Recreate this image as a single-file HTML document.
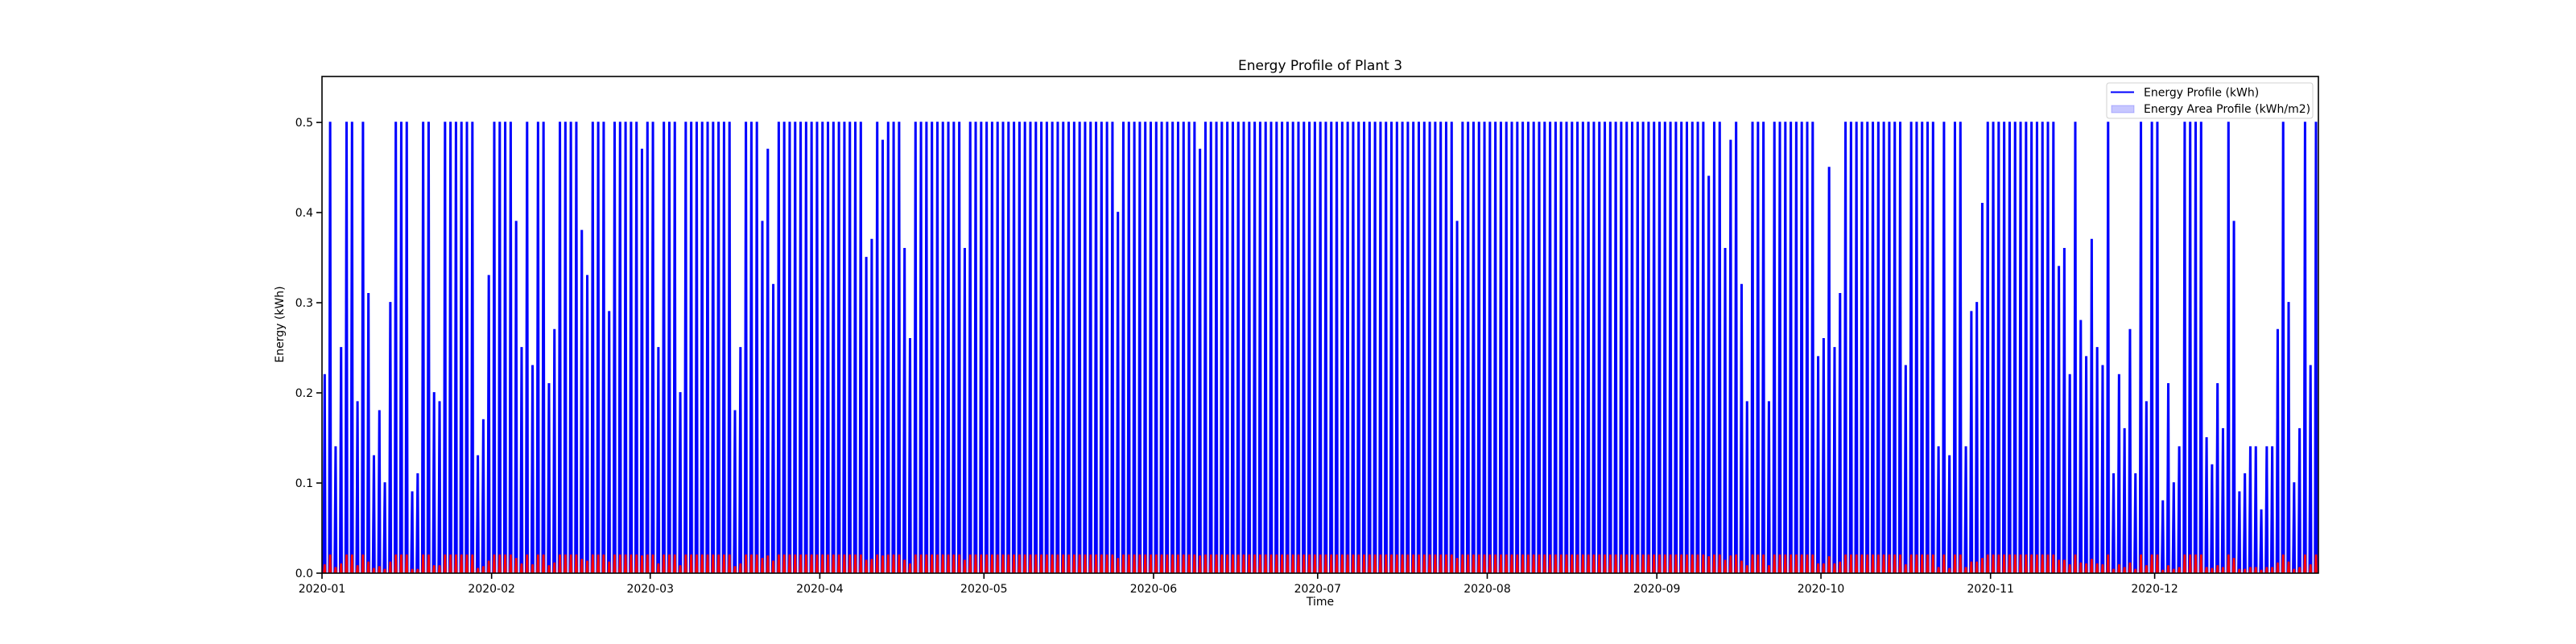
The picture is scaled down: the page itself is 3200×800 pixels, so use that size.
<!DOCTYPE html>
<html><head><meta charset="utf-8"><style>
html,body{margin:0;padding:0;background:#fff;}
svg{display:block;font-family:"DejaVu Sans","Liberation Sans",sans-serif;}
</style></head><body>
<svg id="chart" width="3200" height="800" viewBox="0 0 3200 800" xmlns="http://www.w3.org/2000/svg">
<rect width="3200" height="800" fill="#fff"/>
<text x="1640" y="87" font-size="17" text-anchor="middle" fill="#000">Energy Profile of Plant 3</text>
<g id="marks"></g>
<g id="axes"></g>
<rect x="400" y="95" width="2480" height="617" fill="none" stroke="#000" stroke-width="1.6"/>
<text x="1640" y="752" font-size="14" text-anchor="middle">Time</text>
<text x="0" y="0" font-size="14" text-anchor="middle" transform="translate(352,403) rotate(-90)">Energy (kWh)</text>
<g>
<rect x="2617" y="103" width="256" height="44" rx="3" fill="#fff" fill-opacity="0.85" stroke="#d0d0d0" stroke-width="1"/>
<line x1="2622" y1="114.5" x2="2651" y2="114.5" stroke="#0000ff" stroke-width="2"/>
<text x="2663" y="119.5" font-size="14">Energy Profile (kWh)</text>
<rect x="2623" y="131" width="28" height="9" fill="#0000ff" fill-opacity="0.22" stroke="#0000ff" stroke-opacity="0.22"/>
<text x="2663" y="140" font-size="14">Energy Area Profile (kWh/m2)</text>
</g>
</svg>
<script>
const energyPeaks = [
0.22,0.5,0.14,0.25,0.5,0.5,0.19,0.5,0.31,0.13,
0.18,0.10,0.30,0.5,0.5,0.5,0.09,0.11,0.5,0.5,
0.20,0.19,0.5,0.5,0.5,0.5,0.5,0.5,0.13,0.17,
0.33,0.5,0.5,0.5,0.5,0.39,0.25,0.5,0.23,0.5,
0.5,0.21,0.27,0.5,0.5,0.5,0.5,0.38,0.33,0.5,
0.5,0.5,0.29,0.5,0.5,0.5,0.5,0.5,0.47,0.5,
0.5,0.25,0.5,0.5,0.5,0.20,0.5,0.5,0.5,0.5,
0.5,0.5,0.5,0.5,0.5,0.18,0.25,0.5,0.5,0.5,
0.39,0.47,0.32,0.5,0.5,0.5,0.5,0.5,0.5,0.5,
0.5,0.5,0.5,0.5,0.5,0.5,0.5,0.5,0.5,0.35,
0.37,0.5,0.48,0.5,0.5,0.5,0.36,0.26,0.5,0.5,
0.5,0.5,0.5,0.5,0.5,0.5,0.5,0.36,0.5,0.5,
0.5,0.5,0.5,0.5,0.5,0.5,0.5,0.5,0.5,0.5,
0.5,0.5,0.5,0.5,0.5,0.5,0.5,0.5,0.5,0.5,
0.5,0.5,0.5,0.5,0.5,0.40,0.5,0.5,0.5,0.5,
0.5,0.5,0.5,0.5,0.5,0.5,0.5,0.5,0.5,0.5,
0.47,0.5,0.5,0.5,0.5,0.5,0.5,0.5,0.5,0.5,
0.5,0.5,0.5,0.5,0.5,0.5,0.5,0.5,0.5,0.5,
0.5,0.5,0.5,0.5,0.5,0.5,0.5,0.5,0.5,0.5,
0.5,0.5,0.5,0.5,0.5,0.5,0.5,0.5,0.5,0.5,
0.5,0.5,0.5,0.5,0.5,0.5,0.5,0.39,0.5,0.5,
0.5,0.5,0.5,0.5,0.5,0.5,0.5,0.5,0.5,0.5,
0.5,0.5,0.5,0.5,0.5,0.5,0.5,0.5,0.5,0.5,
0.5,0.5,0.5,0.5,0.5,0.5,0.5,0.5,0.5,0.5,
0.5,0.5,0.5,0.5,0.5,0.5,0.5,0.5,0.5,0.5,
0.5,0.5,0.5,0.44,0.5,0.5,0.36,0.48,0.5,0.32,
0.19,0.5,0.5,0.5,0.19,0.5,0.5,0.5,0.5,0.5,
0.5,0.5,0.5,0.24,0.26,0.45,0.25,0.31,0.5,0.5,
0.5,0.5,0.5,0.5,0.5,0.5,0.5,0.5,0.5,0.23,
0.5,0.5,0.5,0.5,0.5,0.14,0.5,0.13,0.5,0.5,
0.14,0.29,0.30,0.41,0.5,0.5,0.5,0.5,0.5,0.5,
0.5,0.5,0.5,0.5,0.5,0.5,0.5,0.34,0.36,0.22,
0.5,0.28,0.24,0.37,0.25,0.23,0.5,0.11,0.22,0.16,
0.27,0.11,0.5,0.19,0.5,0.5,0.08,0.21,0.10,0.14,
0.5,0.5,0.5,0.5,0.15,0.12,0.21,0.16,0.5,0.39,
0.09,0.11,0.14,0.14,0.07,0.14,0.14,0.27,0.5,0.30,
0.10,0.16,0.5,0.23,0.5
];
const areaPeaks = [
0.009,0.020,0.006,0.010,0.020,0.020,0.008,0.020,0.012,0.005,
0.007,0.004,0.012,0.020,0.020,0.020,0.004,0.004,0.020,0.020,
0.008,0.008,0.020,0.020,0.020,0.020,0.020,0.020,0.005,0.007,
0.013,0.020,0.020,0.020,0.020,0.016,0.010,0.020,0.009,0.020,
0.020,0.008,0.011,0.020,0.020,0.020,0.020,0.015,0.013,0.020,
0.020,0.020,0.012,0.020,0.020,0.020,0.020,0.020,0.019,0.020,
0.020,0.010,0.020,0.020,0.020,0.008,0.020,0.020,0.020,0.020,
0.020,0.020,0.020,0.020,0.020,0.007,0.010,0.020,0.020,0.020,
0.016,0.019,0.013,0.020,0.020,0.020,0.020,0.020,0.020,0.020,
0.020,0.020,0.020,0.020,0.020,0.020,0.020,0.020,0.020,0.014,
0.015,0.020,0.019,0.020,0.020,0.020,0.014,0.010,0.020,0.020,
0.020,0.020,0.020,0.020,0.020,0.020,0.020,0.014,0.020,0.020,
0.020,0.020,0.020,0.020,0.020,0.020,0.020,0.020,0.020,0.020,
0.020,0.020,0.020,0.020,0.020,0.020,0.020,0.020,0.020,0.020,
0.020,0.020,0.020,0.020,0.020,0.016,0.020,0.020,0.020,0.020,
0.020,0.020,0.020,0.020,0.020,0.020,0.020,0.020,0.020,0.020,
0.019,0.020,0.020,0.020,0.020,0.020,0.020,0.020,0.020,0.020,
0.020,0.020,0.020,0.020,0.020,0.020,0.020,0.020,0.020,0.020,
0.020,0.020,0.020,0.020,0.020,0.020,0.020,0.020,0.020,0.020,
0.020,0.020,0.020,0.020,0.020,0.020,0.020,0.020,0.020,0.020,
0.020,0.020,0.020,0.020,0.020,0.020,0.020,0.016,0.020,0.020,
0.020,0.020,0.020,0.020,0.020,0.020,0.020,0.020,0.020,0.020,
0.020,0.020,0.020,0.020,0.020,0.020,0.020,0.020,0.020,0.020,
0.020,0.020,0.020,0.020,0.020,0.020,0.020,0.020,0.020,0.020,
0.020,0.020,0.020,0.020,0.020,0.020,0.020,0.020,0.020,0.020,
0.020,0.020,0.020,0.018,0.020,0.020,0.014,0.019,0.020,0.013,
0.008,0.020,0.020,0.020,0.008,0.020,0.020,0.020,0.020,0.020,
0.020,0.020,0.020,0.010,0.010,0.018,0.010,0.012,0.020,0.020,
0.020,0.020,0.020,0.020,0.020,0.020,0.020,0.020,0.020,0.009,
0.020,0.020,0.020,0.020,0.020,0.006,0.020,0.005,0.020,0.020,
0.006,0.012,0.012,0.016,0.020,0.020,0.020,0.020,0.020,0.020,
0.020,0.020,0.020,0.020,0.020,0.020,0.020,0.014,0.014,0.009,
0.020,0.011,0.010,0.015,0.010,0.009,0.020,0.004,0.009,0.006,
0.011,0.004,0.020,0.008,0.020,0.020,0.003,0.008,0.004,0.006,
0.020,0.020,0.020,0.020,0.006,0.005,0.008,0.006,0.020,0.016,
0.004,0.004,0.006,0.006,0.003,0.006,0.006,0.011,0.020,0.012,
0.004,0.006,0.020,0.009,0.020
];
const monthLabels = ["2020-01","2020-02","2020-03","2020-04","2020-05","2020-06","2020-07","2020-08","2020-09","2020-10","2020-11","2020-12"];
const monthStartDays = [0,31,60,91,121,152,182,213,244,274,305,335];
const yTickValues = [0.0,0.1,0.2,0.3,0.4,0.5];
const yTickLabels = ["0.0","0.1","0.2","0.3","0.4","0.5"];

const NS = "http://www.w3.org/2000/svg";
const X0 = 400, X1 = 2880, Y0 = 712, Y1 = 95;
const DAY_MIN = 0, DAY_MAX = 364.93, V_MIN = 0, V_MAX = 0.551;
function xScale(d){ return X0 + (d - DAY_MIN) / (DAY_MAX - DAY_MIN) * (X1 - X0); }
function yScale(v){ return Y0 - (v - V_MIN) / (V_MAX - V_MIN) * (Y0 - Y1); }

const marks = document.getElementById('marks');
const axes = document.getElementById('axes');

const fillG = document.createElementNS(NS, 'g');


marks.appendChild(fillG);
const lineG = document.createElementNS(NS, 'g');


marks.appendChild(lineG);
const redG = document.createElementNS(NS, 'g');


marks.appendChild(redG);

energyPeaks.forEach((v, i) => {
  const yb = yScale(0), yt = yScale(v);
  const f = document.createElementNS(NS, 'polygon');
  
  
  f.setAttribute('points', `${xScale(i+0.08)},${yb} ${xScale(i+0.3)},${yt} ${xScale(i+0.7)},${yt} ${xScale(i+0.92)},${yb}`);
  f.setAttribute('fill', 'rgba(0,0,255,0.25)');
  fillG.appendChild(f);
  const p = document.createElementNS(NS, 'polyline');
  
  
  p.setAttribute('points', `${xScale(i+0.22)},${yb} ${xScale(i+0.4)},${yt} ${xScale(i+0.58)},${yt} ${xScale(i+0.68)},${yb}`);
  p.setAttribute('fill', '#0000ff');
  p.setAttribute('stroke', '#0000ff');
  p.setAttribute('stroke-width', '1.8');
  lineG.appendChild(p);
});
areaPeaks.forEach((v, i) => {
  const yb = yScale(0), yt = yScale(v);
  const p = document.createElementNS(NS, 'polyline');
  
  
  p.setAttribute('points', `${xScale(i+0.3)},${yb} ${xScale(i+0.42)},${yt} ${xScale(i+0.56)},${yt} ${xScale(i+0.64)},${yb}`);
  p.setAttribute('fill', '#ff0000');
  p.setAttribute('stroke', '#ff0000');
  p.setAttribute('stroke-width', '1.8');
  redG.appendChild(p);
});

monthStartDays.forEach((d, k) => {
  const x = xScale(d);
  const t = document.createElementNS(NS, 'line');
  
  
  t.setAttribute('x1', x); t.setAttribute('x2', x);
  t.setAttribute('y1', Y0); t.setAttribute('y2', Y0 + 7);
  t.setAttribute('stroke', '#000'); t.setAttribute('stroke-width', '1.6');
  axes.appendChild(t);
  const l = document.createElementNS(NS, 'text');
  
  
  l.setAttribute('x', x); l.setAttribute('y', Y0 + 24);
  l.setAttribute('font-size', '14'); l.setAttribute('text-anchor', 'middle');
  l.textContent = monthLabels[k];
  axes.appendChild(l);
});
yTickValues.forEach((v, k) => {
  const y = yScale(v);
  const t = document.createElementNS(NS, 'line');
  
  
  t.setAttribute('x1', X0 - 7); t.setAttribute('x2', X0);
  t.setAttribute('y1', y); t.setAttribute('y2', y);
  t.setAttribute('stroke', '#000'); t.setAttribute('stroke-width', '1.6');
  axes.appendChild(t);
  const l = document.createElementNS(NS, 'text');
  
  
  l.setAttribute('x', X0 - 11); l.setAttribute('y', y + 5);
  l.setAttribute('font-size', '14'); l.setAttribute('text-anchor', 'end');
  l.textContent = yTickLabels[k];
  axes.appendChild(l);
});
</script>
</body></html>
